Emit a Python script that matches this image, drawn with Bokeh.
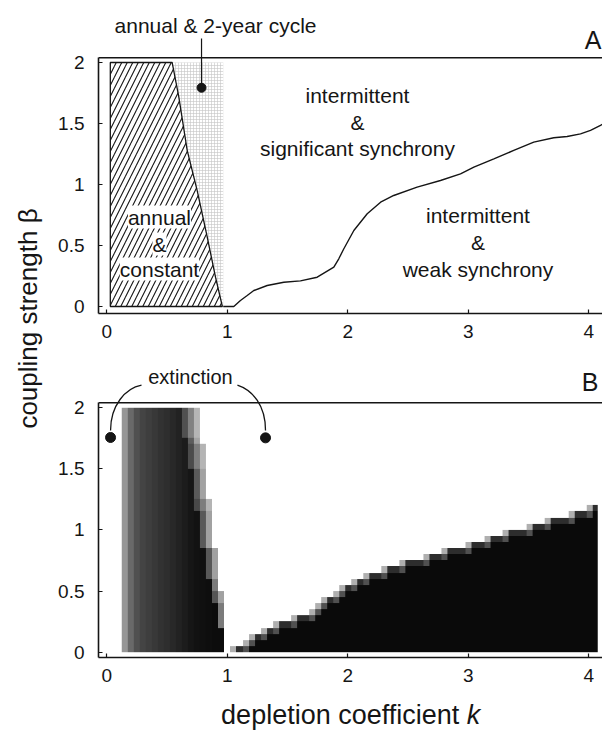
import numpy as np
from math import pi
from bokeh.plotting import figure
from bokeh.layouts import row, column
from bokeh.models import (Range1d, FixedTicker, PrintfTickFormatter, Span, Label,
                          LinearColorMapper)
from bokeh.embed import file_html
from bokeh.resources import INLINE

FONT = "Liberation Sans"
INK = "#151515"

# ---------------- axes ----------------
k_ticks = [0, 1, 2, 3, 4]
beta_ticks = [0, 0.5, 1, 1.5, 2]
x_label = "depletion coefficient"
x_label_var = "k"
y_label = "coupling strength \u03b2"

# ---------------- panel A ----------------
# hatched region "annual & constant"
hatch_k = [0.03, 0.543, 0.598, 0.668, 0.751, 0.834, 0.903, 0.960, 0.03]
hatch_b = [2.0, 2.0, 1.72, 1.28, 0.95, 0.57, 0.24, 0.0, 0.0]
# fine-grid region "annual & 2-year cycle"
grid_left, grid_right, grid_bottom, grid_top = 0.03, 0.967, 0.0, 2.0
# synchrony boundary curve
curve_k = [0.967, 1.055, 1.110, 1.166, 1.221, 1.332, 1.470, 1.608, 1.747, 1.885,
           1.926, 1.968, 2.051, 2.162, 2.273, 2.382, 2.576, 2.770, 2.936, 3.047,
           3.213, 3.378, 3.544, 3.710, 3.821, 3.932, 4.015, 4.098, 4.120]
curve_b = [0.0, 0.0, 0.049, 0.090, 0.131, 0.172, 0.199, 0.210, 0.240, 0.322,
           0.391, 0.473, 0.623, 0.760, 0.855, 0.910, 0.978, 1.033, 1.087, 1.142,
           1.210, 1.279, 1.347, 1.383, 1.393, 1.415, 1.443, 1.484, 1.497]
A_dot_k, A_dot_b = [0.787], [1.793]
A_pointer_k, A_pointer_b = [0.787, 0.787], [1.793, 2.197]
A_texts = ["annual & 2-year cycle",
           "intermittent", "&", "significant synchrony",
           "intermittent", "&", "weak synchrony"]
A_text_k = [0.903, 2.081, 2.081, 2.081, 3.081, 3.081, 3.081]
A_text_b = [2.303, 1.728, 1.512, 1.299, 0.744, 0.528, 0.307]
A_box_texts = ["annual", "&", "constant"]
A_box_k = [0.438, 0.438, 0.438]
A_box_b = [0.733, 0.512, 0.307]

# ---------------- panel B ----------------
# left block: column centres and their grey level (0 black .. 255 white)
left_cols = [0.15, 0.20, 0.25, 0.30, 0.35, 0.40, 0.45, 0.50, 0.55, 0.60,
             0.65, 0.70, 0.75, 0.80, 0.85, 0.90, 0.95]
left_gray = [150, 105, 80, 68, 62, 56, 50, 46, 40, 34, 28, 22, 18, 16, 14, 12, 12]
# per row (beta = 0.025 .. 1.975): last fully dark column, first white column
left_dark_end = [0.95, 0.95, 0.95, 0.95, 0.90, 0.90, 0.90, 0.90, 0.85, 0.85,
                 0.85, 0.85, 0.80, 0.80, 0.80, 0.80, 0.80, 0.75, 0.75, 0.75,
                 0.75, 0.75, 0.75, 0.70, 0.70, 0.70, 0.70, 0.70, 0.70, 0.70,
                 0.65, 0.65, 0.65, 0.65, 0.65, 0.60, 0.60, 0.60, 0.60, 0.60]
left_white_start = [1.0, 1.0, 1.0, 1.0, 1.0, 1.0, 1.0, 1.0, 1.0, 1.0,
                    0.95, 0.95, 0.95, 0.95, 0.95, 0.95, 0.95, 0.90, 0.90, 0.90,
                    0.90, 0.90, 0.90, 0.90, 0.90, 0.85, 0.85, 0.85, 0.85, 0.85,
                    0.85, 0.85, 0.85, 0.85, 0.80, 0.80, 0.80, 0.80, 0.80, 0.80]
# right block: column centres and top of the dark region (beta)
right_cols = [1.05, 1.10, 1.15, 1.20, 1.25, 1.30, 1.35, 1.40, 1.45, 1.50,
              1.55, 1.60, 1.65, 1.70, 1.75, 1.80, 1.85, 1.90, 1.95, 2.00,
              2.05, 2.10, 2.15, 2.20, 2.25, 2.30, 2.35, 2.40, 2.45, 2.50,
              2.55, 2.60, 2.65, 2.70, 2.75, 2.80, 2.85, 2.90, 2.95, 3.00,
              3.05, 3.10, 3.15, 3.20, 3.25, 3.30, 3.35, 3.40, 3.45, 3.50,
              3.55, 3.60, 3.65, 3.70, 3.75, 3.80, 3.85, 3.90, 3.95, 4.00, 4.05]
right_top = [0.05, 0.05, 0.10, 0.15, 0.15, 0.20, 0.20, 0.25, 0.25, 0.25,
             0.30, 0.30, 0.30, 0.35, 0.40, 0.45, 0.45, 0.50, 0.55, 0.55,
             0.60, 0.60, 0.65, 0.65, 0.65, 0.70, 0.70, 0.70, 0.75, 0.75,
             0.75, 0.75, 0.80, 0.80, 0.80, 0.85, 0.85, 0.85, 0.85, 0.90,
             0.90, 0.90, 0.95, 0.95, 0.95, 1.00, 1.00, 1.00, 1.00, 1.05,
             1.05, 1.05, 1.10, 1.10, 1.10, 1.10, 1.15, 1.15, 1.15, 1.20, 1.20]
B_dots_k, B_dots_b = [0.032, 1.318], [1.757, 1.754]
B_text, B_text_k, B_text_b = "extinction", 0.695, 2.250
# connector curves (bezier) from the label to the two dots
B_arc_x0, B_arc_y0 = [0.289, 1.085], [2.185, 2.185]
B_arc_cx0, B_arc_cy0 = [0.156, 1.210], [2.160, 2.144]
B_arc_cx1, B_arc_cy1 = [0.032, 1.318], [2.021, 2.021]
B_arc_x1, B_arc_y1 = [0.032, 1.318], [1.815, 1.815]

# ---------------- build heat-map table ----------------
n_rows = 40
col_k0, cell = 0.15, 0.05
n_cols = 79
img = np.full((n_rows, n_cols), 255.0)
ci = lambda c: int(round((c - col_k0) / cell))
for r in range(n_rows):
    dark_end, white = left_dark_end[r], left_white_start[r]
    fade_cols = [c for c in left_cols if dark_end + 1e-9 < c < white - 1e-9]
    for c, g in zip(left_cols, left_gray):
        if c <= dark_end + 1e-9:
            img[r, ci(c)] = g
        elif c < white - 1e-9:
            m = fade_cols.index(c)
            img[r, ci(c)] = g + (235 - g) * (m + 1) / (len(fade_cols) + 1)
prev = 0.0
for c, top in zip(right_cols, right_top):
    n = int(round(top / cell))
    for r in range(n):
        img[r, ci(c)] = 10
    if n >= 1:
        if top > prev + 1e-9:
            img[n - 1, ci(c)] = 175
            if n >= 2:
                img[n - 2, ci(c)] = 80
        else:
            img[n - 1, ci(c)] = 45
    prev = top
img_up = np.kron(img, np.ones((6, 6)))

# ---------------- figures ----------------
XR = (-0.068, 4.1145)


def style(p, top_line, y_low):
    p.grid.visible = False
    p.outline_line_color = None
    p.background_fill_color = "white"
    for ax in p.axis:
        ax.axis_line_width = 1.6
        ax.axis_line_color = INK
        ax.major_tick_in = 4
        ax.major_tick_out = 0
        ax.major_tick_line_color = INK
        ax.major_tick_line_width = 1.2
        ax.minor_tick_line_color = None
        ax.major_label_text_font = FONT
        ax.major_label_text_font_size = "19px"
        ax.major_label_text_color = INK
        ax.formatter = PrintfTickFormatter(format="%g")
    p.xaxis.ticker = FixedTicker(ticks=k_ticks)
    p.yaxis.ticker = FixedTicker(ticks=beta_ticks)
    p.xaxis.major_label_standoff = 11
    p.yaxis.major_label_standoff = 14
    p.yaxis.bounds = (y_low, top_line)
    p.add_layout(Span(location=top_line, dimension="width", line_color=INK,
                      line_width=1.6))


def txt(p, x, y, text, size="21px", align="center", style_="normal", bg=None):
    lab = Label(x=x, y=y, text=text, text_align=align, text_baseline="alphabetic",
                text_font=FONT, text_font_size=size, text_color=INK,
                text_font_style=style_)
    if bg is not None:
        lab.background_fill_color = bg
    p.add_layout(lab)


def bare(p):
    p.grid.visible = False
    p.outline_line_color = None


# panel A
pA = figure(width=552, height=360, x_range=Range1d(*XR), y_range=Range1d(-0.0574, 2.508),
            toolbar_location=None, output_backend="svg", min_border_left=48,
            min_border_right=0, min_border_top=0, min_border_bottom=47)
style(pA, 2.039, -0.0574)
pA.quad(left=[grid_left], right=[grid_right], bottom=[grid_bottom], top=[grid_top],
        fill_color="white", line_color=None, hatch_pattern="+", hatch_scale=3,
        hatch_color="#c4c4c4", hatch_weight=0.6)
pA.patch(hatch_k, hatch_b, fill_color="white", line_color=INK, line_width=1.3,
         hatch_pattern="/", hatch_scale=11, hatch_color=INK, hatch_weight=1.1)
pA.line(curve_k, curve_b, line_color=INK, line_width=1.4)
pA.line(A_pointer_k, A_pointer_b, line_color=INK, line_width=1.2)
pA.scatter(A_dot_k, A_dot_b, size=9, color=INK)
for t, x, y in zip(A_texts, A_text_k, A_text_b):
    txt(pA, x, y, t)
for t, x, y in zip(A_box_texts, A_box_k, A_box_b):
    txt(pA, x, y, t, bg="white")
txt(pA, 4.106, 2.187, "A", size="25px", align="right")

# panel B
pB = figure(width=552, height=335, x_range=Range1d(*XR), y_range=Range1d(-0.0434, 2.387),
            toolbar_location=None, output_backend="svg", min_border_left=48,
            min_border_right=0, min_border_top=0, min_border_bottom=38)
style(pB, 2.041, -0.0434)
grays = ["#%02x%02x%02x" % (i, i, i) for i in range(256)]
pB.image(image=[img_up], x=0.125, y=0.0, dw=3.95, dh=2.0,
         color_mapper=LinearColorMapper(palette=grays, low=0, high=255))
pB.bezier(x0=B_arc_x0, y0=B_arc_y0, x1=B_arc_x1, y1=B_arc_y1, cx0=B_arc_cx0,
          cy0=B_arc_cy0, cx1=B_arc_cx1, cy1=B_arc_cy1, line_color=INK, line_width=1.3)
pB.scatter(B_dots_k, B_dots_b, size=10, color=INK)
txt(pB, B_text_k, B_text_b, B_text, size="20px")
txt(pB, 4.08, 2.21, "B", size="25px", align="right")

# x-axis title strip (page y 695..733), same horizontal frame as the panels
pX = figure(width=552, height=38, x_range=Range1d(*XR), y_range=Range1d(0, 38),
            toolbar_location=None, output_backend="svg", x_axis_type=None,
            y_axis_type=None, min_border_left=48, min_border_right=0,
            min_border_top=0, min_border_bottom=0)
bare(pX)
txt(pX, 2.926, 19, x_label, size="27px", align="right")
txt(pX, 2.988, 19, x_label_var, size="27px", align="left", style_="italic")

# y-axis title strip
pL = figure(width=50, height=733, x_range=Range1d(0, 50), y_range=Range1d(0, 733),
            toolbar_location=None, output_backend="svg", x_axis_type=None,
            y_axis_type=None, min_border=0)
bare(pL)
pL.add_layout(Label(x=27, y=415, text=y_label, angle=pi / 2, text_align="center",
                    text_baseline="alphabetic", text_font=FONT, text_font_size="26px",
                    text_color=INK))

layout = row(pL, column(pA, pB, pX))
open("out.html", "w").write(file_html(layout, INLINE))
